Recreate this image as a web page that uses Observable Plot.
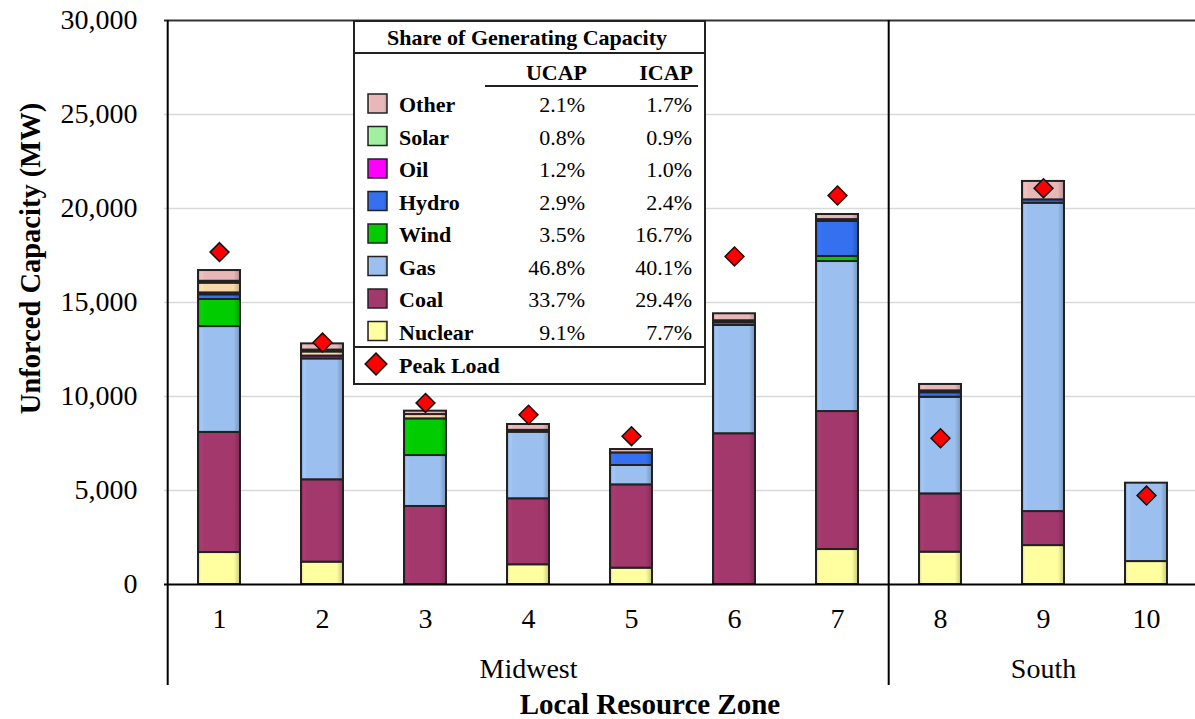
<!DOCTYPE html>
<html>
<head>
<meta charset="utf-8">
<script src="https://cdn.jsdelivr.net/npm/d3@7"></script>
<script src="https://cdn.jsdelivr.net/npm/@observablehq/plot@0.6"></script>
<style>
html, body { margin: 0; padding: 0; background: #fff; }
#wrap { position: relative; width: 1195px; height: 719px; overflow: hidden; font-family: "Liberation Serif", "Times New Roman", serif; }
#wrap > svg.plotsvg { position: absolute; left: 0; top: 0; }
#legend { position: absolute; left: 353px; top: 20px; }
</style>
</head>
<body>
<div id="wrap"></div>
<script>
// ---------- data ----------
const zones = ["1", "2", "3", "4", "5", "6", "7", "8", "9", "10"];
const regionNames = ["Midwest", "South"];
const regionCenterZone = ["4", "9"];
const regionStartZone = ["1", "8"];

// UCAP by fuel, MW
const nuclear = [1700, 1190,    0, 1050,  870,    0, 1860, 1720,  2070, 1220];
const coal    = [6390, 4380, 4150, 3510, 4430, 8020, 7340, 3100,  1810,    0];
const gas     = [5630, 6430, 2710, 3540, 1030, 5760, 7980, 5140, 16400, 4170];
const wind    = [1440,    0, 1950,    0,    0,    0,  270,    0,     0,    0];
const hydro   = [ 250,    0,    0,    0,  670,  150, 1860,  240,   180,    0];
const oil     = [ 100,  150,    0,  100,    0,  100,  100,  100,     0,    0];
const misc    = [ 520,  220,  230,    0,    0,    0,    0,    0,     0,    0];
const solar   = [ 100,  100,    0,    0,    0,    0,    0,    0,     0,    0];
const other   = [ 570,  330,  180,  310,  180,  370,  270,  340,   980,    0];
const peakLoad = [17680, 12870, 9660, 9030, 7890, 17450, 20690, 7780, 21080, 4730];

const seriesNames = ["Nuclear", "Coal", "Gas", "Wind", "Hydro", "Oil", "Misc", "Solar", "Other"];
const seriesColors = ["#ffffa0", "#a3386c", "#9bbfee", "#00cc00", "#3470f0", "#ff00ff", "#f8d8a8", "#a0f0a0", "#e8b8b8"];

const legendNames = ["Other", "Solar", "Oil", "Hydro", "Wind", "Gas", "Coal", "Nuclear"];
const ucapShare = ["2.1%", "0.8%", "1.2%", "2.9%", "3.5%", "46.8%", "33.7%", "9.1%"];
const icapShare = ["1.7%", "0.9%", "1.0%", "2.4%", "16.7%", "40.1%", "29.4%", "7.7%"];
const legendTitle = "Share of Generating Capacity";
const legendColumns = ["UCAP", "ICAP"];
const peakLabel = "Peak Load";

const yTicks = [0, 5000, 10000, 15000, 20000, 25000, 30000];
const xTitle = "Local Resource Zone";
const yTitle = "Unforced Capacity (MW)";

// ---------- tables ----------
const seriesValues = {Nuclear: nuclear, Coal: coal, Gas: gas, Wind: wind, Hydro: hydro, Oil: oil, Misc: misc, Solar: solar, Other: other};
const rows = [];
zones.forEach((z, i) => seriesNames.forEach(s => {
  const v = seriesValues[s][i];
  if (v > 0) rows.push({zone: z, series: s, value: v});
}));
const peaks = zones.map((z, i) => ({zone: z, peak: peakLoad[i]}));
const regionRows = regionNames.map((n, i) => ({name: n, zone: regionCenterZone[i]}));

// ---------- layout ----------
const W = 1195, H = 719;
const X0 = 164, X1 = 1200, Y0 = 584, Y1 = 20;
const step = (X1 - X0) / zones.length;
const yBelow = -((685 - Y0) / (Y0 - Y1)) * 30000;
const FONT = "Liberation Serif, Times New Roman, serif";

const chart = Plot.plot({
  width: W, height: H,
  marginLeft: X0, marginRight: 0, marginTop: Y1, marginBottom: H - Y0,
  style: {fontFamily: FONT, fontSize: "28px", color: "#000", background: "transparent", overflow: "hidden"},
  x: {domain: zones, range: [X0, X1], paddingInner: 0.595, paddingOuter: 0.2975, align: 0.5},
  y: {domain: [0, 30000], range: [Y0, Y1]},
  color: {type: "ordinal", domain: seriesNames, range: seriesNames.map(s => `url(#grad-${s})`)},
  marks: [
    Plot.ruleY(yTicks.filter(d => d > 0 && d < 30000), {stroke: "#d9d9d9", strokeWidth: 1.6}),
    Plot.ruleY([30000], {stroke: "#333", strokeWidth: 2}),
    Plot.barY(rows, {x: "zone", y: "value", fill: "series", order: seriesNames, stroke: "#222", strokeWidth: 2}),
    Plot.ruleY([0], {stroke: "#000", strokeWidth: 2}),
    Plot.ruleX(regionStartZone, {x: d => d, dx: -step / 2, y1: 30000, y2: yBelow, stroke: "#000", strokeWidth: 2}),
    Plot.dot(peaks, {x: "zone", y: "peak", symbol: "diamond2", r: 8.5, fill: "#ff0000", stroke: "#111", strokeWidth: 1.5}),
    Plot.axisY(yTicks, {tickSize: 0, tickPadding: 27, tickFormat: d3.format(","), fontSize: 28, label: null}),
    Plot.axisX({tickSize: 0, tickPadding: 24, fontSize: 28, label: null}),
    Plot.text(regionRows, {x: "zone", text: "name", frameAnchor: "bottom", lineAnchor: "bottom", dy: 93, fontSize: 28, fill: "#000"}),
    Plot.text([xTitle], {frameAnchor: "bottom", lineAnchor: "bottom", dx: -30, dy: 129, fontSize: 29, fontWeight: "bold", fill: "#000"}),
    Plot.text([yTitle], {frameAnchor: "left", textAnchor: "middle", rotate: -90, dx: -134, dy: -44, fontSize: 28.5, fontWeight: "bold", fill: "#000"})
  ]
});
chart.classList.add("plotsvg");
document.getElementById("wrap").appendChild(chart);

// bevel-like gradients
function addGradients(svg) {
  const defs = d3.select(svg).insert("defs", ":first-child");
  seriesNames.forEach((s, i) => {
    const c = d3.color(seriesColors[i]);
    const g = defs.append("linearGradient").attr("id", `grad-${s}`).attr("x1", 0).attr("x2", 1).attr("y1", 0).attr("y2", 0);
    g.append("stop").attr("offset", "0%").attr("stop-color", c.darker(0.5));
    g.append("stop").attr("offset", "7%").attr("stop-color", c.brighter(0.15));
    g.append("stop").attr("offset", "15%").attr("stop-color", c);
    g.append("stop").attr("offset", "85%").attr("stop-color", c);
    g.append("stop").attr("offset", "100%").attr("stop-color", c.darker(0.7));
  });
}
addGradients(chart);

// ---------- legend box ----------
const LW = 353, LH = 365;
const leg = d3.select("#wrap").append("svg").attr("id", "legend").attr("width", LW).attr("height", LH)
  .style("font-family", FONT);
leg.append("rect").attr("x", 1).attr("y", 1).attr("width", LW - 2).attr("height", LH - 2).attr("fill", "#fff").attr("stroke", "#222").attr("stroke-width", 2);
leg.append("text").attr("x", 174).attr("y", 25).attr("text-anchor", "middle").attr("font-size", 22).attr("font-weight", "bold").text(legendTitle);
leg.append("line").attr("x1", 0).attr("x2", LW).attr("y1", 33).attr("y2", 33).attr("stroke", "#222").attr("stroke-width", 2);
const colRight = [234, 340];
legendColumns.forEach((c, j) => leg.append("text").attr("x", colRight[j]).attr("y", 60).attr("text-anchor", "end")
  .attr("font-size", 22).attr("font-weight", "bold").text(c));
leg.append("line").attr("x1", 132).attr("x2", 345).attr("y1", 66).attr("y2", 66).attr("stroke", "#222").attr("stroke-width", 2);
legendNames.forEach((n, i) => {
  const base = 92 + i * 32.5;
  leg.append("rect").attr("x", 15).attr("y", base - 18).attr("width", 19).attr("height", 19)
    .attr("fill", `url(#grad-${n})`).attr("stroke", "#222").attr("stroke-width", 1.5);
  leg.append("text").attr("x", 46).attr("y", base).attr("font-size", 22).attr("font-weight", "bold").text(n);
  leg.append("text").attr("x", 232).attr("y", base).attr("text-anchor", "end").attr("font-size", 22).text(ucapShare[i]);
  leg.append("text").attr("x", 339).attr("y", base).attr("text-anchor", "end").attr("font-size", 22).text(icapShare[i]);
});
leg.append("line").attr("x1", 0).attr("x2", LW).attr("y1", 327).attr("y2", 327).attr("stroke", "#222").attr("stroke-width", 2);
leg.append("path").attr("d", d3.symbol(d3.symbolDiamond2, 300)()).attr("transform", "translate(23,344)")
  .attr("fill", "#ff0000").attr("stroke", "#111").attr("stroke-width", 1.5);
leg.append("text").attr("x", 46).attr("y", 353).attr("font-size", 22).attr("font-weight", "bold").text(peakLabel);
</script>
</body>
</html>
